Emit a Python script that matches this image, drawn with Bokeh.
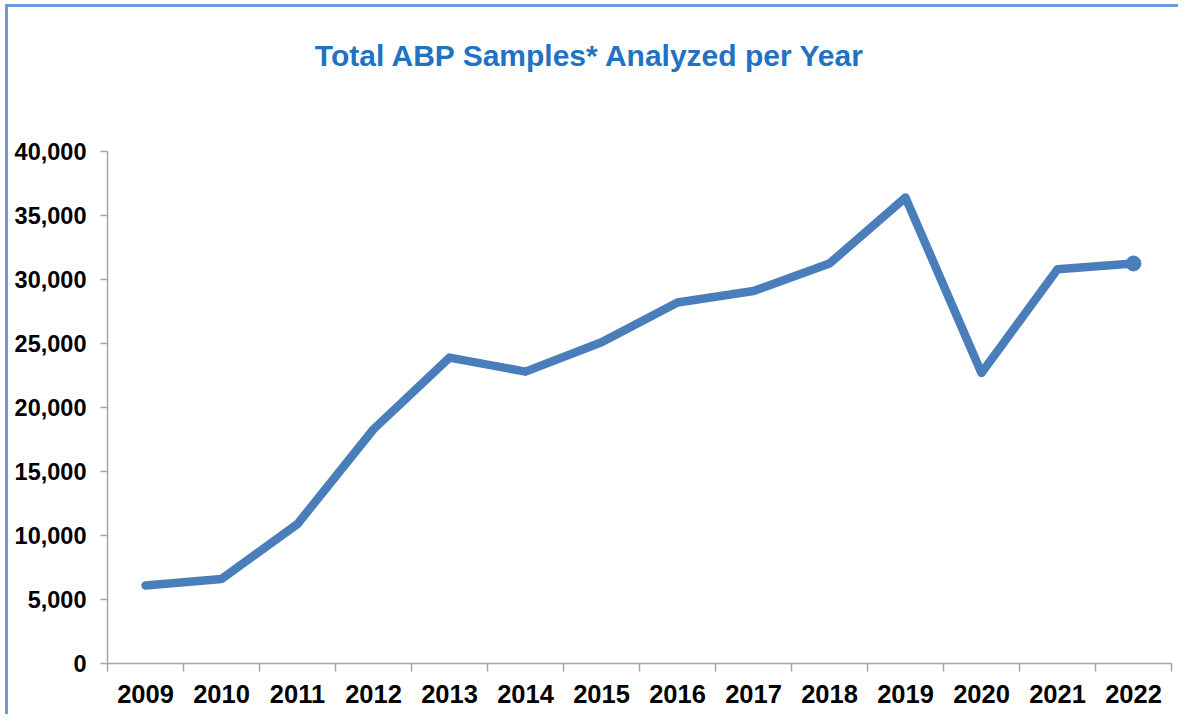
from bokeh.plotting import figure
from bokeh.models import Range1d, FixedTicker, LinearAxis, Label, NumeralTickFormatter
from bokeh.embed import file_html
from bokeh.resources import INLINE

years = ["2009", "2010", "2011", "2012", "2013", "2014", "2015",
         "2016", "2017", "2018", "2019", "2020", "2021", "2022"]
samples = [6100, 6600, 10900, 18300, 23900, 22800, 25100,
           28200, 29100, 31250, 36400, 22700, 30800, 31250]
y_ticks = [0, 5000, 10000, 15000, 20000, 25000, 30000, 35000, 40000]
title_text = "Total ABP Samples* Analyzed per Year"

FONT = "Liberation Sans"
W, H = 1178, 714
FL, FT, FR, FB = 107, 151, 1171, 663  # axis box edges in picture pixels
Y_MAX = 40000
# frame reaches the top of the canvas so the title can sit inside it
y_top = Y_MAX * FB / (FB - FT)

p = figure(width=W, height=H, output_backend="svg", toolbar_location=None,
           x_range=Range1d(0, len(years)), y_range=Range1d(0, y_top),
           min_border_left=FL, min_border_right=W - FR,
           min_border_top=0, min_border_bottom=H - FB,
           x_axis_location=None, y_axis_location=None,
           styles={"box-shadow": "inset 5px 4px 0 0 white, inset 8px 7px 0 0 #7098dc",
                   "background-color": "white"})
p.grid.visible = False
p.outline_line_color = None
p.background_fill_color = None
p.border_fill_color = None

centers = [i + 0.5 for i in range(len(years))]
bounds = list(range(len(years) + 1))

# y axis
ya = LinearAxis(ticker=FixedTicker(ticks=y_ticks), bounds=(0, Y_MAX))
ya.formatter = NumeralTickFormatter(format="0,0")
ya.axis_line_color = "#a6a6a6"
ya.axis_line_width = 1.5
ya.major_tick_line_color = "#a6a6a6"
ya.major_tick_line_width = 1.5
ya.major_tick_out = 7
ya.major_tick_in = 0
ya.minor_tick_line_color = None
ya.major_label_standoff = 14
ya.major_label_text_font = FONT
ya.major_label_text_font_style = "bold"
ya.major_label_text_font_size = "23.5px"
ya.major_label_text_color = "black"
p.add_layout(ya, "left")

# x axis: labels at category centres, tick marks (minor) at boundaries
xa = LinearAxis(ticker=FixedTicker(ticks=centers, minor_ticks=bounds))
xa.major_label_overrides = {c: y for c, y in zip(centers, years)}
xa.axis_line_color = "#a6a6a6"
xa.axis_line_width = 1.5
xa.major_tick_line_color = None
xa.major_tick_out = 0
xa.major_tick_in = 0
xa.minor_tick_line_color = "#a6a6a6"
xa.minor_tick_line_width = 1.5
xa.minor_tick_out = 8
xa.minor_tick_in = 0
xa.major_label_standoff = 13
xa.major_label_text_font = FONT
xa.major_label_text_font_style = "bold"
xa.major_label_text_font_size = "25.5px"
xa.major_label_text_color = "black"
p.add_layout(xa, "below")

p.line(centers, samples, line_color="#4a7ebb", line_width=8.5, line_join="round", line_cap="round")
p.scatter([centers[-1]], [samples[-1]], size=15, fill_color="#4a7ebb", line_color="#4a7ebb")

p.add_layout(Label(x=590 - FL, y=FB - 55, x_units="screen", y_units="screen", text=title_text,
                   text_align="center", text_baseline="alphabetic",
                   text_font=FONT, text_font_style="bold", text_font_size="30px",
                   text_color="#2272c3"))

open("out.html", "w").write(file_html(p, INLINE))
